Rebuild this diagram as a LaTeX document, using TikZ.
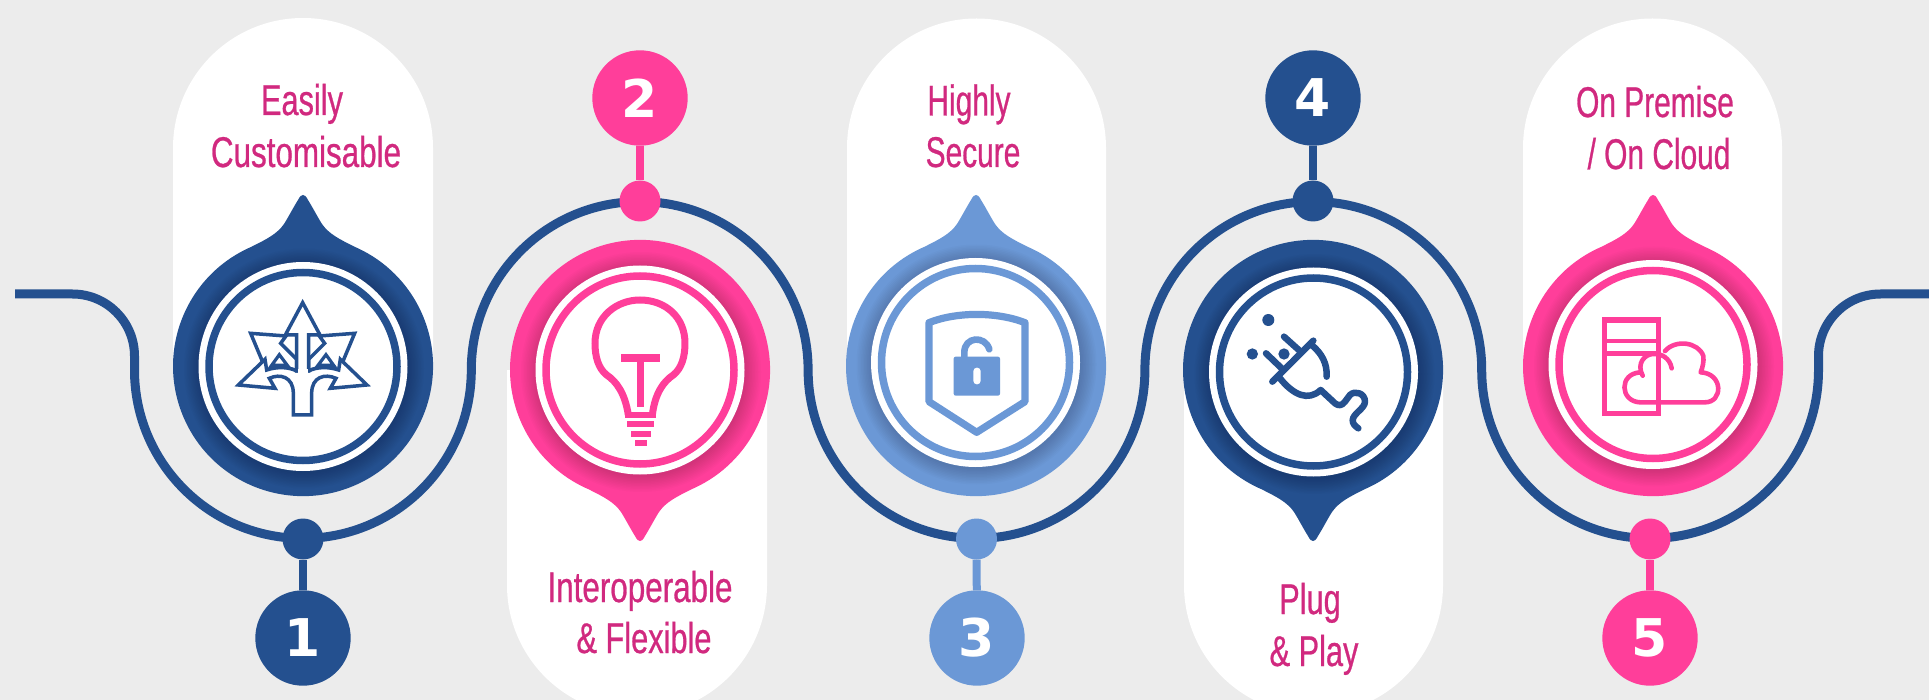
\documentclass[tikz,border=0pt]{standalone}
\usepackage{fontspec}
\setmainfont{Liberation Sans}
\newfontfamily\labelfont[FakeStretch=0.715,FakeBold=0.6]{Liberation Sans}
\newfontfamily\labelnarrow[FakeStretch=0.695,FakeBold=0.6]{Liberation Sans}
\newfontfamily\labelwide[FakeStretch=0.73,FakeBold=0.6]{Liberation Sans}
\newfontfamily\numfont{DejaVu Sans}
\definecolor{bgc}{HTML}{ECECEC}
\definecolor{navy}{HTML}{24508F}
\definecolor{rose}{HTML}{FF3E9A}
\definecolor{sky}{HTML}{6B98D6}
\definecolor{txtc}{HTML}{D1297F}
\newcommand{\teardrop}[6]{%
 % cx cy ix iy colour sign
 \begin{scope}[shift={(#1,#2)},yscale=#6]
  \fill[#5] (-52,-119) arc[start angle=246.4,delta angle=-312.8,radius=130]
    .. controls (36,-127) and (26,-132) .. (19,-142)
    .. controls (14,-150) and (10,-158) .. (5,-166)
    .. controls (3,-170) and (1.5,-171) .. (0,-171)
    .. controls (-1.5,-171) and (-3,-170) .. (-5,-166)
    .. controls (-10,-158) and (-14,-150) .. (-19,-142)
    .. controls (-26,-132) and (-36,-127) .. (-52,-119) -- cycle;
 \end{scope}
 \foreach \r in {120,118.5,...,105}{\fill[black,opacity=0.014] (#3+1,#4+2) circle[radius=\r];}
 \fill[white] (#3,#4) circle[radius=104.5];
 \draw[#5,line width=7.5pt] (#3,#4) circle[radius=94];
}
\tikzset{
 x=1pt,y=-1pt,
 lab/.style={font=\labelfont\fontsize{43}{50}\selectfont,text=txtc,anchor=base,inner sep=0pt},
 labn/.style={font=\labelnarrow\fontsize{43}{50}\selectfont,text=txtc,anchor=base,inner sep=0pt},
 labw/.style={font=\labelwide\fontsize{43}{50}\selectfont,text=txtc,anchor=base,inner sep=0pt},
 numc/.style={circle,minimum size=95.4pt,inner sep=0pt,text=white,font=\numfont\bfseries\fontsize{52}{60}\selectfont},
 dotc/.style={circle,minimum size=41pt,inner sep=0pt},
 stem/.style={line width=8pt},
 track/.style={draw=navy,line width=9pt},
 iconline/.style={navy,fill=white,line width=3.5pt,line join=miter}
}
\begin{document}
\begin{tikzpicture}
\useasboundingbox (0,0) rectangle (1929,700);
\fill[bgc] (0,0) rectangle (1929,700);
\begin{scope}
\clip (0,0) rectangle (1929,700);
% pills
\fill[white] (173,370) -- (173,148) arc[start angle=180,end angle=360,radius=130] -- (433,370) -- cycle;
\fill[white] (847,370) -- (847,148) arc[start angle=180,end angle=360,radius=129.5] -- (1106,370) -- cycle;
\fill[white] (1523,370) -- (1523,148) arc[start angle=180,end angle=360,radius=129.5] -- (1782,370) -- cycle;
\fill[white] (507,370) -- (507,585) arc[start angle=180,end angle=0,radius=130] -- (767,370) -- cycle;
\fill[white] (1184,370) -- (1184,585) arc[start angle=180,end angle=0,radius=129.5] -- (1443,370) -- cycle;
\end{scope}
% track
\draw[track] (15,294) -- (72.5,294) arc[start angle=270,end angle=360,radius=62] -- (134.5,370)
  arc[start angle=180,end angle=0,radius=168.4]
  arc[start angle=180,end angle=360,radius=168.4]
  arc[start angle=180,end angle=0,radius=168.4]
  arc[start angle=180,end angle=360,radius=168.4]
  arc[start angle=180,end angle=0,radius=168.4]
  -- (1818.5,356) arc[start angle=180,end angle=270,radius=62] -- (1929,294);
% teardrops
\teardrop{303}{366}{303}{366.5}{navy}{1}
\teardrop{640}{370}{640}{370}{rose}{-1}
\teardrop{976}{366}{975.5}{362.5}{sky}{1}
\teardrop{1313}{370}{1313.5}{372}{navy}{-1}
\teardrop{1653}{366}{1653}{364.5}{rose}{1}
% numbers
\node[numc,fill=navy] (n1) at (303,638) {1};
\node[dotc,fill=navy] (d1) at (303,539) {};
\draw[stem,navy] (d1) -- (n1);
\node[numc,fill=rose] (n2) at (640,98) {2};
\node[dotc,fill=rose] (d2) at (640,201) {};
\draw[stem,rose] (d2) -- (n2);
\node[numc,fill=sky] (n3) at (977,638) {3};
\node[dotc,fill=sky] (d3) at (976.5,539) {};
\draw[stem,sky] (d3) -- (n3);
\node[numc,fill=navy] (n4) at (1313,98) {4};
\node[dotc,fill=navy] (d4) at (1313,201) {};
\draw[stem,navy] (d4) -- (n4);
\node[numc,fill=rose] (n5) at (1650,638) {5};
\node[dotc,fill=rose] (d5) at (1650,539) {};
\draw[stem,rose] (d5) -- (n5);
% labels
\node[lab] (t1a) at (302,115) {Easily};
\node[labw] (t1b) at (306,167) {Customisable};
\node[labw] (t2a) at (640,602) {Interoperable};
\node[lab] (t2b) at (644,653) {\& Flexible};
\node[labn] (t3a) at (969,115.5) {Highly};
\node[labn] (t3b) at (973,167) {Secure};
\node[lab] (t4a) at (1310,614) {Plug};
\node[lab] (t4b) at (1314,666) {\& Play};
\node[labn] (t5a) at (1655,117) {On Premise};
\node[labn] (t5b) at (1659,169) {/ On Cloud};
% icon 1: branching arrows
\begin{scope}[shift={(230,290)},x=.3333pt,y=-.3333pt]
 \filldraw[iconline] (62,130) -- (168,138) -- (152,160) -- (200,208) -- (200,243) .. controls (170,228) and (135,230) .. (108,240) -- cycle;
 \filldraw[iconline] (374,130) -- (268,138) -- (284,160) -- (236,208) -- (236,243) .. controls (266,228) and (301,230) .. (328,240) -- cycle;
 \filldraw[iconline,line width=3.2pt] (125,226) -- (148,194) -- (172,226) -- cycle;
 \filldraw[iconline,line width=3.2pt] (311,226) -- (288,194) -- (264,226) -- cycle;
 \filldraw[iconline]
  (25,285) -- (105,208) -- (110,240) .. controls (140,230) and (175,230) .. (200,243) -- (236,243)
  .. controls (261,230) and (296,230) .. (326,240) -- (331,208) -- (411,285) -- (301,295) -- (318,265)
  .. controls (285,250) and (245,260) .. (245,310) -- (245,375) -- (190,375) -- (190,310)
  .. controls (190,260) and (150,250) .. (118,265) -- (135,295) -- cycle;
 \filldraw[iconline] (218,38) -- (270,135) -- (236,135) -- (236,243) -- (200,243) -- (200,135) -- (166,135) -- cycle;
 \fill[white] (203,236) rectangle (233,252);
\end{scope}
% icon 2: light bulb
\begin{scope}[shift={(530,270)},x=.3333pt,y=-.3333pt]
 \draw[rose,line width=7pt]
  (295,435) .. controls (285,370) and (260,335) .. (230,315)
  .. controls (205,295) and (195,260) .. (195,220)
  .. controls (195,140) and (260,90) .. (330,90)
  .. controls (405,90) and (465,140) .. (465,220)
  .. controls (465,260) and (455,295) .. (430,315)
  .. controls (400,335) and (375,370) .. (367,435);
 \fill[rose] (285,426) rectangle (378,445);
 \fill[rose] (291,452) rectangle (372,472);
 \fill[rose] (303,482) rectangle (362,502);
 \fill[rose] (315,509) rectangle (351,529);
 \fill[rose] (273,253) rectangle (390,275);
 \fill[rose] (320,275) rectangle (342,412);
\end{scope}
% icon 3: shield
\begin{scope}[shift={(870,270)},x=.3333pt,y=-.3333pt]
 \draw[sky,line width=7.2pt,line join=round]
  (177,158) .. controls (260,125) and (380,125) .. (465,158) -- (465,395) -- (320,487) -- (177,395) -- cycle;
 \fill[sky,rounded corners=2pt] (251,260) rectangle (390,377);
 \fill[white,rounded corners=3.5pt] (310,293) rectangle (332,343);
 \draw[sky,line width=6.6pt,line cap=round]
  (283,265) -- (283,247) .. controls (283,200) and (345,195) .. (358,238);
\end{scope}
% icon 4: plug
\begin{scope}[shift={(1210,280)},x=.3333pt,y=-.3333pt]
 \fill[navy] (175,120) circle[radius=18];
 \fill[navy] (127,222) circle[radius=17];
 \draw[navy,line width=6.5pt,line cap=round] (222,170) -- (272,215);
 \draw[navy,line width=6.5pt,line cap=round] (168,220) -- (218,268);
 \draw[navy,line width=6.5pt,line cap=round] (187,305) -- (310,182);
 \fill[white] (222,222) circle[radius=24];
 \fill[navy] (222,222) circle[radius=17];
 \draw[navy,line width=6.5pt,line cap=round,line join=round]
  (305,195) .. controls (335,220) and (352,250) .. (350,290);
 \draw[navy,line width=6.5pt,line cap=round,line join=round]
  (210,295) .. controls (250,345) and (295,365) .. (332,330)
  -- (375,370) .. controls (385,378) and (395,378) .. (405,365)
  -- (420,345) .. controls (435,330) and (465,340) .. (465,365)
  .. controls (465,385) and (430,400) .. (428,420)
  .. controls (428,432) and (435,438) .. (445,445);
\end{scope}
% icon 5: server and cloud
\begin{scope}[shift={(1550,280)},x=.3333pt,y=-.3333pt]
 \draw[rose,line width=5.4pt] (163,120) rectangle (326,400);
 \draw[rose,line width=4pt] (163,182) -- (326,182);
 \draw[rose,line width=4.6pt] (163,220) -- (326,220);
 \draw[rose,line width=4.6pt,line cap=round]
  (365,265) .. controls (360,235) and (335,220) .. (310,222)
  .. controls (285,222) and (258,250) .. (278,287);
 \draw[rose,line width=4.6pt,line cap=round,line join=round]
  (345,213) .. controls (375,178) and (445,185) .. (460,228)
  .. controls (462,245) and (458,262) .. (452,277)
  .. controls (520,280) and (520,367) .. (465,367)
  -- (270,367) .. controls (210,365) and (205,280) .. (272,277);
\end{scope}
\end{tikzpicture}
\end{document}
